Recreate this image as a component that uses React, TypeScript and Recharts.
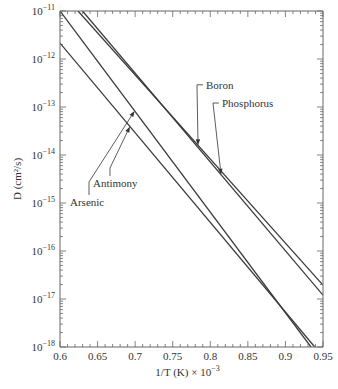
import React from 'react';
import { LineChart, Line, XAxis, YAxis, ReferenceLine } from 'recharts';

// 1/T (K) x 10^-3 and D (cm^2/s) at the ends of each straight line
const boronX = [0.624, 0.95];
const boronD = [1e-11, 1.94e-17];
const phosphorusX = [0.63, 0.95];
const phosphorusD = [1e-11, 1.2e-17];
const antimonyX = [0.6, 0.934];
const antimonyD = [1e-11, 1e-18];
const arsenicX = [0.6, 0.939];
const arsenicD = [2.15e-12, 1e-18];

const decadeExponents = [-18, -17, -16, -15, -14, -13, -12, -11];
const xMajorTicks = [0.6, 0.65, 0.7, 0.75, 0.8, 0.85, 0.9, 0.95];
const xTickLabels = ['0.6', '0.65', '0.7', '0.75', '0.8', '0.85', '0.9', '0.95'];

// leader annotations: name, elbow point and arrow tip (data coords)
const labelNames = ['Boron', 'Phosphorus', 'Antimony', 'Arsenic'];
const elbowX = [0.7823, 0.8036, 0.6665, 0.6386];
const elbowD = [2.9e-13, 1.21e-13, 5.36e-15, 2.74e-15];
const tipX = [0.7837, 0.8143, 0.6931, 0.6993];
const tipD = [1.6e-14, 3.9e-15, 3.93e-14, 8.3e-14];

const FONT = '"Liberation Serif", "DejaVu Serif", serif';
const INK = '#333';
const AXIS = '#666';

const toPoints = (xs: number[], ds: number[]) => xs.map((x, i) => ({ x, d: ds[i] }));

const yTicks: number[] = [];
decadeExponents.forEach((e, i) => {
  const steps = i === decadeExponents.length - 1 ? [1] : [1, 2, 3, 4, 5, 6, 7, 8, 9];
  steps.forEach(m => yTicks.push(m * Math.pow(10, e)));
});
const xTicks: number[] = [];
for (let k = 60; k <= 95; k++) xTicks.push(k / 100);

const isDecade = (v: number) => Math.abs(Math.log10(v) - Math.round(Math.log10(v))) < 1e-6;
const isXMajor = (v: number) => xMajorTicks.some(t => Math.abs(t - v) < 1e-6);

const LeftTick = (props: any) => {
  const { x, y, payload } = props;
  const major = isDecade(payload.value);
  const exp = Math.round(Math.log10(payload.value));
  return (
    <g>
      <line x1={x} x2={x + (major ? 6 : 3)} y1={y} y2={y} stroke={AXIS} strokeWidth={0.8} />
      {major && (
        <text x={x - 5} y={y + 4} textAnchor="end" fontFamily={FONT} fontSize={11} fill={INK}>
          <tspan>10</tspan>
          <tspan dy={-5} fontSize={8}>{'\u2212' + Math.abs(exp)}</tspan>
        </text>
      )}
    </g>
  );
};

const RightTick = (props: any) => {
  const { x, y, payload } = props;
  const major = isDecade(payload.value);
  return <line x1={x} x2={x - (major ? 6 : 3)} y1={y} y2={y} stroke={AXIS} strokeWidth={0.8} />;
};

const BottomTick = (props: any) => {
  const { x, y, payload } = props;
  const major = isXMajor(payload.value);
  const idx = xMajorTicks.findIndex(t => Math.abs(t - payload.value) < 1e-6);
  return (
    <g>
      <line x1={x} x2={x} y1={y} y2={y - (major ? 6 : 3)} stroke={AXIS} strokeWidth={0.8} />
      {major && (
        <text x={x} y={y + 13} textAnchor="middle" fontFamily={FONT} fontSize={11} fill={INK}>
          {xTickLabels[idx]}
        </text>
      )}
    </g>
  );
};

const TopTick = (props: any) => {
  const { x, y, payload } = props;
  const major = isXMajor(payload.value);
  return <line x1={x} x2={x} y1={y} y2={y + (major ? 6 : 3)} stroke={AXIS} strokeWidth={0.8} />;
};

const makeLeader = (name: string) => (props: any) => {
  const { x1, y1, x2, y2 } = props;
  const ang = Math.atan2(y2 - y1, x2 - x1);
  const len = 6;
  const hw = 2.2;
  const bx = x2 - len * Math.cos(ang);
  const by = y2 - len * Math.sin(ang);
  const px = -Math.sin(ang) * hw;
  const py = Math.cos(ang) * hw;
  const horizontal = name === 'Boron' || name === 'Phosphorus';
  const stubLen = name === 'Arsenic' ? 13 : 8;
  return (
    <g>
      <line x1={x1} y1={y1} x2={bx} y2={by} stroke={INK} strokeWidth={0.8} />
      <polygon points={`${x2},${y2} ${bx + px},${by + py} ${bx - px},${by - py}`} fill={INK} />
      {horizontal ? (
        <g>
          <line x1={x1} y1={y1} x2={x1 + 6} y2={y1} stroke={INK} strokeWidth={0.8} />
          <text x={x1 + 9} y={y1 + 4} fontFamily={FONT} fontSize={11} fill={INK}>{name}</text>
        </g>
      ) : (
        <g>
          <line x1={x1} y1={y1} x2={x1} y2={y1 + stubLen} stroke={INK} strokeWidth={0.8} />
          <text x={x1 - (name === 'Arsenic' ? 19 : 17)} y={y1 + stubLen + 11} fontFamily={FONT} fontSize={11} fill={INK}>
            {name}
          </text>
        </g>
      )}
    </g>
  );
};

const series = [
  { name: 'Boron', data: toPoints(boronX, boronD) },
  { name: 'Phosphorus', data: toPoints(phosphorusX, phosphorusD) },
  { name: 'Antimony', data: toPoints(antimonyX, antimonyD) },
  { name: 'Arsenic', data: toPoints(arsenicX, arsenicD) },
];

export default function App() {
  return (
    <div style={{ position: 'absolute', left: 0, top: 0, background: '#fff' }}>
      <LineChart width={338} height={389} margin={{ top: 0, right: 0, bottom: 0, left: 0 }}>
        <XAxis
          dataKey="x"
          type="number"
          domain={[0.6, 0.95]}
          allowDataOverflow
          ticks={xTicks}
          interval={0}
          tickSize={0}
          tickMargin={0}
          tickLine={false}
          tick={<BottomTick />}
          height={42}
          axisLine={{ stroke: AXIS }}
          label={(p: any) => {
            const vb = p.viewBox;
            return (
              <text x={vb.x + vb.width / 2 - 4} y={vb.y + 29} textAnchor="middle" fontFamily={FONT} fontSize={11} fill={INK}>
                <tspan>1/T (K) × 10</tspan>
                <tspan dy={-5} fontSize={8}>{'\u22123'}</tspan>
              </text>
            );
          }}
        />
        <XAxis
          xAxisId="top"
          orientation="top"
          dataKey="x"
          type="number"
          domain={[0.6, 0.95]}
          allowDataOverflow
          ticks={xTicks}
          interval={0}
          tickSize={0}
          tickMargin={0}
          tickLine={false}
          tick={<TopTick />}
          height={11}
          axisLine={{ stroke: AXIS }}
        />
        <YAxis
          dataKey="d"
          scale="log"
          type="number"
          domain={[1e-18, 1e-11]}
          allowDataOverflow
          ticks={yTicks}
          interval={0}
          tickSize={0}
          tickMargin={0}
          tickLine={false}
          tick={<LeftTick />}
          width={60}
          axisLine={{ stroke: AXIS }}
          label={(p: any) => {
            const vb = p.viewBox;
            const cy = vb.y + vb.height / 2;
            return (
              <text x={18} y={cy} transform={`rotate(-90, 18, ${cy})`} textAnchor="middle" dominantBaseline="middle" fontFamily={FONT} fontSize={11} fill={INK}>
                D (cm²/s)
              </text>
            );
          }}
        />
        <YAxis
          yAxisId="right"
          orientation="right"
          scale="log"
          type="number"
          domain={[1e-18, 1e-11]}
          allowDataOverflow
          ticks={yTicks}
          interval={0}
          tickSize={0}
          tickMargin={0}
          tickLine={false}
          tick={<RightTick />}
          width={15}
          axisLine={{ stroke: AXIS }}
        />
        {series.map(s => (
          <Line
            key={s.name}
            data={s.data}
            dataKey="d"
            type="linear"
            stroke="#3a3a3a"
            strokeWidth={1.3}
            dot={false}
            isAnimationActive={false}
          />
        ))}
        {labelNames.map((name, i) => (
          <ReferenceLine
            key={name}
            segment={[
              { x: elbowX[i], y: elbowD[i] },
              { x: tipX[i], y: tipD[i] },
            ]}
            ifOverflow="visible"
            shape={makeLeader(name)}
          />
        ))}
      </LineChart>
    </div>
  );
}
